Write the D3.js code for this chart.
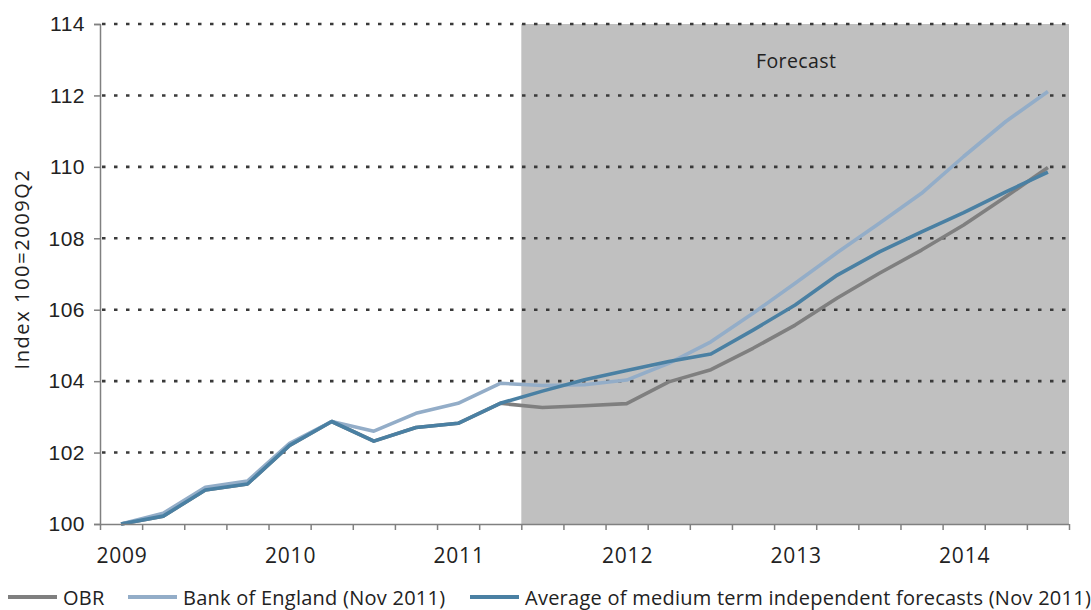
<!DOCTYPE html>
<html>
<head>
<meta charset="utf-8">
<script src="https://cdn.jsdelivr.net/npm/d3@7"></script>
<style>
  html, body { margin: 0; padding: 0; background: #fff; }
  svg { display: block; font-family: "Open Sans", sans-serif; }
  .grid line { stroke: #3a3a3a; stroke-width: 2.6; stroke-dasharray: 3.5 8.5; }
  .axis path, .axis line { stroke: #808080; stroke-width: 1.5; }
  .axis text { fill: #222; font-size: 21px; letter-spacing: 0.5px; }
</style>
</head>
<body>
<div id="chart"></div>
<script>
/* ── data: quarterly, index 100 = 2009Q2 ── */
const quarters = [
  '2009 Q2', '2009 Q3', '2009 Q4', '2010 Q1',
  '2010 Q2', '2010 Q3', '2010 Q4', '2011 Q1',
  '2011 Q2', '2011 Q3', '2011 Q4', '2012 Q1',
  '2012 Q2', '2012 Q3', '2012 Q4', '2013 Q1',
  '2013 Q2', '2013 Q3', '2013 Q4', '2014 Q1',
  '2014 Q2', '2014 Q3', '2014 Q4'
];
const obr = [
  100.0, 100.22, 100.95, 101.12, 102.2, 102.87, 102.32, 102.7, 102.82, 103.38,
  103.26, 103.31, 103.37, 103.98, 104.32, 104.92, 105.57, 106.33, 107.02, 107.67,
  108.37, 109.16, 109.98
];
const boe = [
  100.0, 100.3, 101.03, 101.2, 102.26, 102.87, 102.6, 103.1, 103.38, 103.94,
  103.88, 103.9, 104.03, 104.5, 105.1, 105.9, 106.74, 107.6, 108.42, 109.26,
  110.29, 111.27, 112.11
];
const average = [
  100.0, 100.22, 100.95, 101.12, 102.2, 102.87, 102.32, 102.7, 102.82, 103.38,
  103.72, 104.04, 104.3, 104.55, 104.76, 105.43, 106.13, 106.97, 107.62, 108.18,
  108.72, 109.3, 109.85
];
const yTicks = [100, 102, 104, 106, 108, 110, 112, 114];
const forecastFrom = '2011 Q4';
const seriesNames = ['OBR', 'Bank of England (Nov 2011)', 'Average of medium term independent forecasts (Nov 2011)'];
const seriesColors = ['#7f7f7f', '#93adc8', '#4a80a3'];

const W = 1091, H = 610;
const mLeft = 100, mRight = 1069, mTop = 24, mBottom = 524;

const svg = d3.select('#chart').append('svg')
    .attr('width', W)
    .attr('height', H);

const xq = d3.scaleLinear().domain([0, quarters.length]).range([mLeft, mRight]);
const y  = d3.scaleLinear().domain([100, 114]).range([mBottom, mTop]);
const xc = i => xq(i + 0.5);

/* forecast shading */
const fi = quarters.indexOf(forecastFrom);
svg.append('rect')
    .attr('x', xq(fi)).attr('y', y(114))
    .attr('width', xq(quarters.length) - xq(fi))
    .attr('height', y(100) - y(114))
    .attr('fill', '#c0c0c0');

svg.append('text')
    .attr('x', xq(16.5) + 1).attr('y', 68)
    .attr('text-anchor', 'middle')
    .attr('font-size', 19.5).attr('letter-spacing', 0.4).attr('fill', '#222')
    .text('Forecast');

/* dotted gridlines */
svg.append('g').attr('class', 'grid')
    .selectAll('line').data(yTicks.filter(v => v > 100)).join('line')
    .attr('x1', mLeft + 2).attr('x2', mRight)
    .attr('y1', d => y(d)).attr('y2', d => y(d));

/* lines */
const line = d3.line().x((d, i) => xc(i)).y(d => y(d));
[obr, boe, average].forEach((s, k) => {
    svg.append('path')
        .datum(s)
        .attr('fill', 'none')
        .attr('stroke', seriesColors[k])
        .attr('stroke-width', 3.6)
        .attr('stroke-linejoin', 'round')
        .attr('d', line);
});

/* axes */
svg.append('g').attr('class', 'axis')
    .attr('transform', `translate(${mLeft},0)`)
    .call(d3.axisLeft(y).tickValues(yTicks).tickSize(6).tickPadding(9).tickFormat(d3.format('d')));

const xAxis = svg.append('g').attr('class', 'axis')
    .attr('transform', `translate(0,${mBottom})`)
    .call(d3.axisBottom(xq).tickValues(d3.range(0, quarters.length + 1)).tickSize(6).tickFormat(''));
xAxis.select('.domain').attr('d', `M${mLeft},0.5H${mRight}`);

const yearIdx = quarters.map((q, i) => i).filter(i => quarters[i].endsWith('Q2'));
svg.append('g').selectAll('text').data(yearIdx).join('text')
    .attr('x', i => xc(i) + 1).attr('y', 563)
    .attr('text-anchor', 'middle')
    .attr('font-size', 21).attr('letter-spacing', 0.8).attr('fill', '#222')
    .text(i => quarters[i].slice(0, 4));

svg.append('text')
    .attr('transform', `translate(29,${(mTop + mBottom) / 2 - 5}) rotate(-90)`)
    .attr('text-anchor', 'middle')
    .attr('font-size', 20).attr('letter-spacing', 1.6).attr('fill', '#222')
    .text('Index 100=2009Q2');

/* legend */
const legX = [8, 128, 470];
const leg = svg.append('g').selectAll('g').data(seriesNames).join('g')
    .attr('transform', (d, i) => `translate(${legX[i]},597)`);
leg.append('line')
    .attr('x1', 0).attr('x2', 49).attr('y1', 0).attr('y2', 0)
    .attr('stroke', (d, i) => seriesColors[i]).attr('stroke-width', 4);
leg.append('text')
    .attr('x', 55).attr('y', 7.5)
    .attr('font-size', 20).attr('letter-spacing', 0.25).attr('fill', '#222')
    .text(d => d);
</script>
</body>
</html>
